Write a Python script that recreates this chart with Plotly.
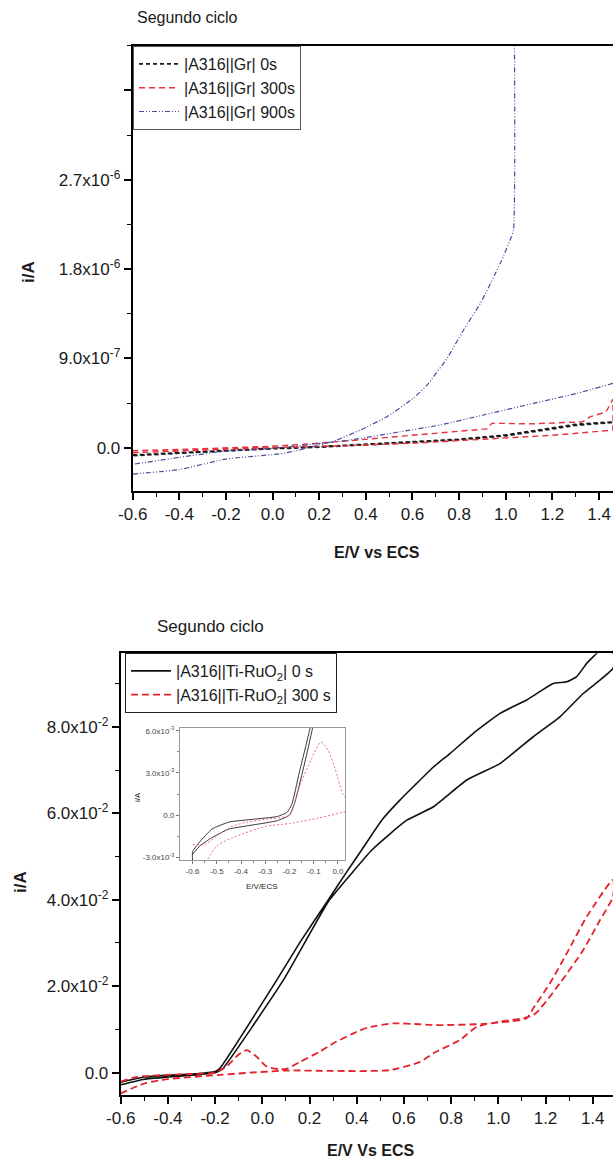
import plotly.graph_objects as go

# ---------------- Top chart: |A316||Gr| ----------------
gr_0s_x = [-0.6, -0.4, -0.2, 0.0, 0.2, 0.4, 0.6, 0.8, 1.0, 1.2, 1.3, 1.46,
           1.46, 1.3, 1.2, 1.0, 0.8, 0.6, 0.4, 0.2, 0.0, -0.2, -0.4, -0.6]
gr_0s_y = [-7.4e-8, -5.0e-8, -2.3e-8, -5e-9, 1.0e-8, 3.5e-8, 6.0e-8, 8.5e-8, 1.28e-7, 2.0e-7, 2.35e-7, 2.6e-7,
           2.55e-7, 2.25e-7, 1.9e-7, 1.2e-7, 8.0e-8, 5.5e-8, 3.0e-8, 5e-9, -1.0e-8, -3.0e-8, -5.5e-8, -8.0e-8]

gr_300s_x = [-0.6, -0.4, -0.2, 0.0, 0.2, 0.4, 0.6, 0.8, 1.0, 1.2, 1.46,
             1.46, 1.43, 1.36, 1.33, 1.2, 1.1, 1.0, 0.94, 0.92, 0.75, 0.6, 0.4, 0.2, 0.0, -0.2, -0.4, -0.6]
gr_300s_y = [-5.0e-8, -3.0e-8, -1.5e-8, 0.0, 1.2e-8, 2.8e-8, 4.5e-8, 7.0e-8, 9.5e-8, 1.25e-7, 1.78e-7,
             4.9e-7, 3.6e-7, 3.1e-7, 2.6e-7, 2.45e-7, 2.4e-7, 2.45e-7, 2.45e-7, 1.9e-7, 1.55e-7, 1.3e-7, 9.0e-8, 4.5e-8, 1.5e-8, -5e-9, -1.8e-8, -3.0e-8]

gr_900s_x = [-0.6, -0.4, -0.2, 0.05, 0.2, 0.276, 0.376, 0.49, 0.604, 0.662, 0.748, 0.819, 0.891, 0.977, 1.02, 1.033, 1.035,
             None,
             1.46, 1.306, 1.119, 0.905, 0.719, 0.547, 0.333, 0.0, -0.2, -0.4, -0.6]
gr_900s_y = [-2.65e-7, -2.2e-7, -1.14e-7, -5.6e-8, 2.7e-8, 7.8e-8, 1.78e-7, 3.12e-7, 5.0e-7, 6.3e-7, 9.0e-7, 1.186e-6, 1.455e-6, 1.86e-6, 2.1e-6, 2.19e-6, 5.0e-6,
             None,
             6.49e-7, 5.48e-7, 4.47e-7, 3.3e-7, 2.29e-7, 1.61e-7, 7.8e-8, -6e-9, -3.3e-8, -9.7e-8, -1.67e-7]

top_xticks = [-0.6, -0.4, -0.2, 0.0, 0.2, 0.4, 0.6, 0.8, 1.0, 1.2, 1.4]
top_xlabels = ["-0.6", "-0.4", "-0.2", "0.0", "0.2", "0.4", "0.6", "0.8", "1.0", "1.2", "1.4"]
top_yticks = [0.0, 9.0e-7, 1.8e-6, 2.7e-6, 3.6e-6]
top_ylabels = ["0.0", "9.0x10<sup>-7</sup>", "1.8x10<sup>-6</sup>", "2.7x10<sup>-6</sup>", ""]

# ---------------- Bottom chart: |A316||Ti-RuO2| ----------------
ru_0s_x = [-0.6, -0.5, -0.4, -0.3, -0.2, -0.18, 0.061, 0.16, 0.28, 0.35, 0.421, 0.506, 0.584, 0.654, 0.725, 0.795, 0.894,
           1.007, 1.12, 1.233, 1.29, 1.332, 1.375, 1.417, 1.45,
           1.5, 1.486, 1.431, 1.36, 1.261, 1.148, 1.007, 0.866, 0.725, 0.612, 0.54, 0.464, 0.38, 0.28, 0.089,
           -0.17, -0.2, -0.3, -0.4, -0.5, -0.6]
ru_0s_y = [-0.0022, -0.0010, -0.0006, -0.0003, 0.0003, 0.0010, 0.0214, 0.0302, 0.0400, 0.0458, 0.0515, 0.0584, 0.0631, 0.0669, 0.0707, 0.0738, 0.0785,
           0.0831, 0.0862, 0.0900, 0.0904, 0.0916, 0.0947, 0.0970, 0.0990,
           0.0960, 0.0935, 0.0908, 0.0877, 0.0823, 0.0777, 0.0715, 0.0677, 0.0615, 0.0584, 0.0552, 0.0515, 0.0462, 0.0396, 0.0214,
           0.0008, 0.0, -0.0006, -0.0010, -0.0015, -0.0028]

ru_300s_x = [-0.6, -0.55, -0.5, -0.4, -0.3, -0.2, -0.15, -0.1, -0.066, -0.024, 0.019, 0.075, 0.103, 0.16, 0.245, 0.301,
             0.386, 0.45, 0.555, 0.668, 0.725, 0.939, 1.12, 1.148, 1.219, 1.29, 1.375, 1.486,
             1.486, 1.431, 1.36, 1.261, 1.148, 1.007, 0.909, 0.838, 0.725, 0.668, 0.541, 0.3, 0.103, -0.18, -0.4, -0.5, -0.6]
ru_300s_y = [-0.0021, -0.0012, -0.0008, -0.0005, -0.0003, 0.0, 0.0015, 0.0042, 0.0052, 0.0037, 0.0014, 0.0008, 0.0009, 0.0025, 0.0049, 0.0068,
             0.0091, 0.0105, 0.0114, 0.0112, 0.0110, 0.0113, 0.0126, 0.0149, 0.0207, 0.0276, 0.0361, 0.0446,
             0.0407, 0.0353, 0.0284, 0.0207, 0.0133, 0.0118, 0.0106, 0.0076, 0.0045, 0.0025, 0.0006, 0.0004, 0.0005, -0.0005, -0.0015, -0.0025, -0.0048]

bot_xticks = [-0.6, -0.4, -0.2, 0.0, 0.2, 0.4, 0.6, 0.8, 1.0, 1.2, 1.4]
bot_xlabels = ["-0.6", "-0.4", "-0.2", "0.0", "0.2", "0.4", "0.6", "0.8", "1.0", "1.2", "1.4"]
bot_yticks = [0.0, 0.02, 0.04, 0.06, 0.08]
bot_ylabels = ["0.0", "2.0x10<sup>-2</sup>", "4.0x10<sup>-2</sup>", "6.0x10<sup>-2</sup>", "8.0x10<sup>-2</sup>"]

# ---------------- Inset ----------------
ins_0s_x = [-0.6, -0.6, -0.57, -0.52, -0.45, -0.35, -0.25, -0.21, -0.19, -0.16, -0.115, -0.10,
            -0.095, -0.105, -0.15, -0.18, -0.2, -0.25, -0.35, -0.45, -0.52, -0.57, -0.6]
ins_0s_y = [-0.0033, -0.0026, -0.0019, -0.0010, -0.0005, -0.0003, -0.0001, 0.0002, 0.0008, 0.0030, 0.0062, 0.0075,
            0.0075, 0.0062, 0.0028, 0.0008, 0.0, -0.0004, -0.0007, -0.0010, -0.0016, -0.0022, -0.0028]

ins_300s_x = [-0.6, -0.55, -0.5, -0.45, -0.4, -0.3, -0.2, -0.16, -0.112, -0.071, -0.04, -0.01, 0.02, 0.05,
              0.05, 0.02, -0.077, -0.2, -0.297, -0.434, -0.5, -0.543]
ins_300s_y = [-0.0021, -0.0021, -0.0015, -0.0009, -0.0006, -0.0003, 0.0, 0.0020, 0.0039, 0.0052, 0.0046, 0.0032, 0.0015, 0.0008,
              0.0004, 0.0002, -0.0002, -0.0006, -0.0008, -0.0016, -0.0022, -0.0033]

ins_xticks = [-0.6, -0.5, -0.4, -0.3, -0.2, -0.1, 0.0]
ins_xlabels = ["-0.6", "-0.5", "-0.4", "-0.3", "-0.2", "-0.1", "0.0"]
ins_yticks = [-0.003, 0.0, 0.003, 0.006]
ins_ylabels = ["-3.0x10<sup>-3</sup>", "0.0", "3.0x10<sup>-3</sup>", "6.0x10<sup>-3</sup>"]

FONT = "Liberation Sans"
W, H = 613, 1165

fig = go.Figure()

# top traces
fig.add_trace(go.Scatter(x=gr_0s_x, y=gr_0s_y, mode="lines", name="|A316||Gr| 0s",
                         line=dict(color="#1a1a1a", width=1.8, dash="4px,3px"), xaxis="x", yaxis="y", legend="legend"))
fig.add_trace(go.Scatter(x=gr_300s_x, y=gr_300s_y, mode="lines", name="|A316||Gr| 300s",
                         line=dict(color="#e8303c", width=1.4, dash="6px,4px"), xaxis="x", yaxis="y", legend="legend"))
fig.add_trace(go.Scatter(x=gr_900s_x, y=gr_900s_y, mode="lines", name="|A316||Gr| 900s",
                         line=dict(color="#4a4a9c", width=1.2, dash="5px,2px,1px,2px,1px,2px", shape="spline", smoothing=0.5),
                         xaxis="x", yaxis="y", legend="legend"))

# bottom traces
fig.add_trace(go.Scatter(x=ru_0s_x, y=ru_0s_y, mode="lines", name="|A316||Ti-RuO<sub>2</sub>| 0 s",
                         line=dict(color="#111111", width=1.6, shape="spline", smoothing=0.4), xaxis="x2", yaxis="y2", legend="legend2"))
fig.add_trace(go.Scatter(x=ru_300s_x, y=ru_300s_y, mode="lines", name="|A316||Ti-RuO<sub>2</sub>| 300 s",
                         line=dict(color="#e4222c", width=1.8, dash="7px,4px", shape="spline", smoothing=0.6),
                         xaxis="x2", yaxis="y2", legend="legend2"))

# inset traces
fig.add_trace(go.Scatter(x=ins_0s_x, y=ins_0s_y, mode="lines", showlegend=False,
                         line=dict(color="#222222", width=0.9, shape="spline", smoothing=0.5), xaxis="x3", yaxis="y3"))
fig.add_trace(go.Scatter(x=ins_300s_x, y=ins_300s_y, mode="lines", showlegend=False,
                         line=dict(color="#e86070", width=0.9, dash="2px,2px", shape="spline", smoothing=0.6),
                         xaxis="x3", yaxis="y3"))


def mids(vals):
    return [(a + b) / 2 for a, b in zip(vals[:-1], vals[1:])]


def main_x(ticks, labels, domain, rng, anchor):
    step = ticks[1] - ticks[0]
    minor_vals = mids(ticks) + [ticks[-1] + step / 2]
    return dict(domain=domain, range=rng, anchor=anchor, tickmode="array", tickvals=ticks, ticktext=labels,
                ticks="outside", ticklen=7, tickwidth=1.5, tickcolor="black", automargin=False,
                showline=True, linecolor="black", linewidth=2, mirror=True,
                showgrid=False, zeroline=False,
                tickfont=dict(family=FONT, size=17, color="#1a1a1a"),
                minor=dict(ticks="outside", ticklen=4, tickwidth=1.3, tickcolor="black",
                           tickmode="array", tickvals=minor_vals))


def main_y(ticks, labels, domain, rng, anchor, minor_vals):
    return dict(domain=domain, range=rng, anchor=anchor, tickmode="array", tickvals=ticks, ticktext=labels,
                ticks="outside", ticklen=7, tickwidth=1.5, tickcolor="black", automargin=False,
                showline=True, linecolor="black", linewidth=2, mirror=False,
                showgrid=False, zeroline=False,
                tickfont=dict(family=FONT, size=17, color="#1a1a1a"),
                minor=dict(ticks="outside", ticklen=4, tickwidth=1.3, tickcolor="black",
                           tickmode="array", tickvals=minor_vals))


top_ystep = top_yticks[1] - top_yticks[0]
top_yminor = mids(top_yticks) + [top_yticks[-1] + top_ystep / 2]
bot_ystep = bot_yticks[1] - bot_yticks[0]
bot_yminor = mids(bot_yticks) + [bot_yticks[-1] + bot_ystep / 2]

fig.update_layout(
    width=W, height=H, margin=dict(l=0, r=0, t=0, b=0, autoexpand=False),
    paper_bgcolor="white", plot_bgcolor="white",
    font=dict(family=FONT, color="#1a1a1a"),
    xaxis=main_x(top_xticks, top_xlabels, [132.7 / W, 1.0], [-0.6, 1.46], "y"),
    yaxis=main_y(top_yticks, top_ylabels, [1 - 491 / H, 1 - 45.7 / H], [-4.36e-7, 4.05e-6], "x", top_yminor),
    xaxis2=main_x(bot_xticks, bot_xlabels, [120.7 / W, 1.0], [-0.6, 1.486], "y2"),
    yaxis2=main_y(bot_yticks, bot_ylabels, [1 - 1095 / H, 1 - 653.3 / H], [-0.00516, 0.097], "x2", bot_yminor),
    xaxis3=dict(domain=[180 / W, 345 / W], range=[-0.652, 0.029], anchor="y3", automargin=False,
                tickmode="array", tickvals=ins_xticks, ticktext=ins_xlabels,
                ticks="outside", ticklen=3, tickwidth=0.8, tickcolor="#777",
                showline=True, linecolor="#999", linewidth=1, mirror=True,
                showgrid=False, zeroline=False,
                tickfont=dict(family=FONT, size=8, color="#444"),
                minor=dict(ticks="outside", ticklen=2, tickwidth=0.6, tickcolor="#888",
                           tickmode="array", tickvals=mids(ins_xticks))),
    yaxis3=dict(domain=[1 - 860 / H, 1 - 728 / H], range=[-0.0032, 0.0062], anchor="x3", automargin=False,
                tickmode="array", tickvals=ins_yticks, ticktext=ins_ylabels,
                ticks="outside", ticklen=3, tickwidth=0.8, tickcolor="#777",
                showline=True, linecolor="#999", linewidth=1, mirror=True,
                showgrid=False, zeroline=False,
                tickfont=dict(family=FONT, size=8, color="#444"),
                minor=dict(ticks="outside", ticklen=2, tickwidth=0.6, tickcolor="#888",
                           tickmode="array", tickvals=mids(ins_yticks))),
    legend=dict(x=133 / W, y=1 - 46 / H, xanchor="left", yanchor="top",
                bgcolor="white", bordercolor="#555", borderwidth=1,
                font=dict(family=FONT, size=16, color="#1a1a1a"),
                itemwidth=40, tracegroupgap=0),
    legend2=dict(x=125 / W, y=1 - 653 / H, xanchor="left", yanchor="top",
                 bgcolor="white", bordercolor="#222", borderwidth=1,
                 font=dict(family=FONT, size=16, color="#1a1a1a"),
                 itemwidth=40, tracegroupgap=0),
    showlegend=True,
)

ann = [
    dict(text="Segundo ciclo", x=135 / W, y=1 - 17 / H, xanchor="left", yanchor="middle", size=16),
    dict(text="Segundo ciclo", x=155 / W, y=1 - 626 / H, xanchor="left", yanchor="middle", size=17),
    dict(text="<b>E/V vs ECS</b>", x=377 / W, y=1 - 552 / H, xanchor="center", yanchor="middle", size=16),
    dict(text="<b>E/V Vs ECS</b>", x=370 / W, y=1 - 1150 / H, xanchor="center", yanchor="middle", size=16),
    dict(text="E/V/ECS", x=262 / W, y=1 - 886 / H, xanchor="center", yanchor="middle", size=8),
]
for a in ann:
    fig.add_annotation(text=a["text"], x=a["x"], y=a["y"], xref="paper", yref="paper",
                       xanchor=a["xanchor"], yanchor=a["yanchor"], showarrow=False,
                       font=dict(family=FONT, size=a["size"], color="#1a1a1a"))

rot = [
    dict(text="<b>i/A</b>", x=28 / W, y=1 - 272 / H, size=17),
    dict(text="<b>i/A</b>", x=20 / W, y=1 - 882 / H, size=17),
    dict(text="i/A", x=137 / W, y=1 - 797 / H, size=8),
]
for a in rot:
    fig.add_annotation(text=a["text"], x=a["x"], y=a["y"], xref="paper", yref="paper",
                       xanchor="center", yanchor="middle", showarrow=False, textangle=-90,
                       font=dict(family=FONT, size=a["size"], color="#1a1a1a"))

fig.write_html("out.html")
